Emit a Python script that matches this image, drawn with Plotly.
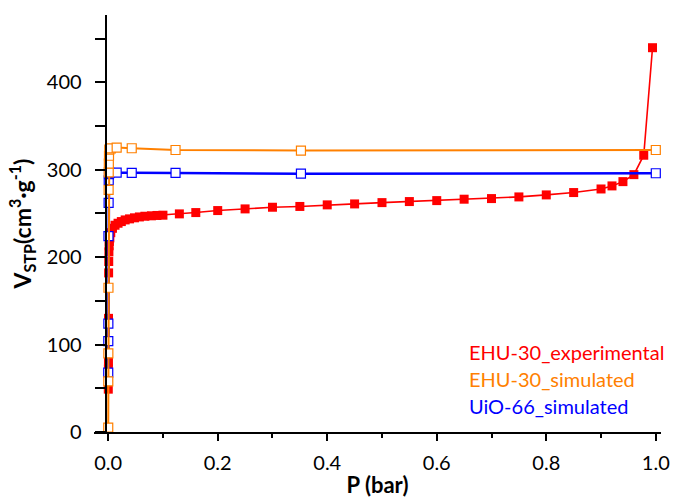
import plotly.graph_objects as go

# ---- data ----
p_exp = [0.0002, 0.0003, 0.0004, 0.0005, 0.0006, 0.0008, 0.001, 0.0013, 0.0017, 0.0022,
         0.003, 0.0047, 0.0078, 0.0125, 0.018, 0.024, 0.031, 0.039, 0.048, 0.057, 0.067,
         0.079, 0.089, 0.1, 0.13, 0.16, 0.2, 0.25, 0.3, 0.35, 0.4, 0.45, 0.5, 0.55, 0.6,
         0.65, 0.7, 0.75, 0.8, 0.85, 0.9, 0.92, 0.94, 0.96, 0.978, 0.994]
v_exp = [49, 62, 72, 80, 130, 182, 195, 206, 213, 218,
         222, 228, 233, 236.5, 238.8, 240.7, 242.6, 243.8, 245, 246, 246.8,
         247.3, 247.7, 248, 249.5, 251, 253.3, 255.2, 257.1, 258, 259.8, 260.9, 262.4, 263.6, 264.7,
         266.3, 267, 268.9, 271.2, 273.9, 278, 281.5, 286.4, 294.4, 316.6, 439.6]

p_sim30 = [0.0001, 0.0002, 0.0003, 0.0005, 0.0008, 0.001, 0.0012, 0.0015, 0.002, 0.005,
           0.0155, 0.043, 0.123, 0.352, 1.0]
v_sim30 = [5, 58, 90, 165, 277, 297, 307, 316, 323, 324.5,
           325.3, 324.6, 322.6, 321.9, 322.6]

p_uio = [0.0001, 0.0002, 0.0003, 0.0005, 0.0008, 0.001, 0.0015, 0.0025, 0.0155, 0.043,
         0.123, 0.352, 1.0]
v_uio = [68, 104, 124, 224, 262, 288, 295, 296.5, 296.7, 296.5, 296.3, 295.5, 296]

series_names = ["EHU-30_experimental", "EHU-30_simulated", "UiO-66_simulated"]
series_colors = ["#FF0000", "#FF8000", "#0000FF"]

x_ticks = [0.0, 0.2, 0.4, 0.6, 0.8, 1.0]
x_ticktext = ["0.0", "0.2", "0.4", "0.6", "0.8", "1.0"]
y_ticks = [0, 100, 200, 300, 400]

FONT = "Lato"

fig = go.Figure()
fig.add_trace(go.Scatter(
    x=p_exp, y=v_exp, mode="lines+markers", name=series_names[0],
    line=dict(color=series_colors[0], width=1.6),
    marker=dict(symbol="square", size=9, color=series_colors[0]),
    cliponaxis=False))
fig.add_trace(go.Scatter(
    x=p_uio, y=v_uio, mode="lines+markers", name=series_names[2],
    line=dict(color=series_colors[2], width=2.5),
    marker=dict(symbol="square", size=9, color="white",
                line=dict(color=series_colors[2], width=1.2)),
    cliponaxis=False))
fig.add_trace(go.Scatter(
    x=p_sim30, y=v_sim30, mode="lines+markers", name=series_names[1],
    line=dict(color=series_colors[1], width=2),
    marker=dict(symbol="square", size=9, color="white",
                line=dict(color=series_colors[1], width=1.2)),
    cliponaxis=False))

# legend as coloured text
W, H = 673, 498
L, R, T, B = 94, 12, 15, 66
pw = W - L - R
ph = H - T - B
leg_x = (467 - L) / pw
leg_ys = [352, 379, 406]
for name, col, yp in zip(series_names, series_colors, leg_ys):
    fig.add_annotation(
        x=leg_x, y=1 - (yp - T) / ph, xref="paper", yref="paper",
        text=name, showarrow=False, xanchor="left", yanchor="middle",
        font=dict(family=FONT, size=20, color=col))

fig.update_layout(
    width=W, height=H,
    margin=dict(l=L, r=R, t=T, b=B, autoexpand=False),
    paper_bgcolor="white", plot_bgcolor="white",
    showlegend=False,
    font=dict(family=FONT, size=18, color="black"),
    xaxis=dict(
        range=[-0.0259, 1.0095], showgrid=False, zeroline=False, automargin=False,
        showline=True, linecolor="black", linewidth=2,
        tickvals=x_ticks, ticktext=x_ticktext,
        ticks="outside", ticklen=7, tickwidth=2, tickcolor="black",
        minor=dict(dtick=0.1, tick0=0, ticks="outside", ticklen=4, tickwidth=2, tickcolor="black"),
        tickfont=dict(family=FONT, size=20),
        ticklabelstandoff=5, ticklabeloverflow="allow",
        title=dict(text="<b>P (bar)</b>", font=dict(family=FONT, size=22), standoff=6),
    ),
    yaxis=dict(
        range=[0, 477], showgrid=False, zeroline=False, automargin=False,
        anchor="free", position=(105.6 - L) / pw,
        showline=True, linecolor="black", linewidth=2,
        tickvals=y_ticks,
        ticks="outside", ticklen=10, tickwidth=2, tickcolor="black",
        minor=dict(dtick=50, tick0=0, ticks="outside", ticklen=10, tickwidth=2, tickcolor="black"),
        tickfont=dict(family=FONT, size=20),
        ticklabelstandoff=9,
        title=dict(text="<b>V<sub>STP</sub>(cm<sup>3</sup>·g<sup>-1</sup>)</b>",
                   font=dict(family=FONT, size=23), standoff=8),
    ),
)

fig.write_html("out.html", config={"displayModeBar": False},
               post_script="document.body.style.margin='0';")
